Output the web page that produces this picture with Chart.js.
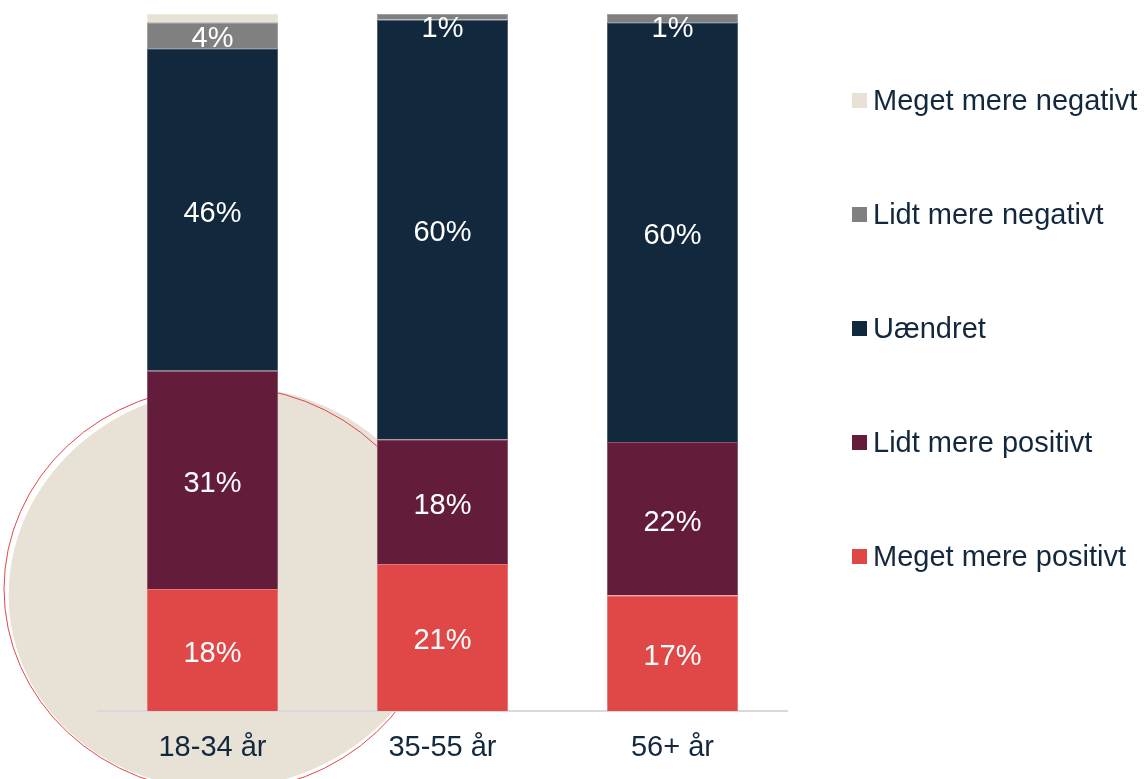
<!DOCTYPE html>
<html>
<head>
    <meta charset="utf-8">
    <title>Holdning efter alder</title>
    <script src="https://cdn.jsdelivr.net/npm/chart.js"></script>
    <style>
        body {
            margin: 0;
            padding: 0;
            background: #ffffff;
            font-family: 'Liberation Sans', Arial, sans-serif;
        }
        #wrap {
            position: relative;
            width: 1145px;
            height: 779px;
        }
        #legend {
            position: absolute;
            left: 852px;
            top: 43px;
        }
        .legend-item {
            height: 114px;
            display: flex;
            align-items: center;
            font-size: 29px;
            color: #13283d;
            white-space: nowrap;
        }
        .legend-box {
            width: 15px;
            height: 15px;
            margin-right: 6px;
        }
    </style>
</head>
<body>
    <div id="wrap">
        <canvas id="chart" width="1145" height="779"></canvas>
        <div id="legend"></div>
    </div>

    <script>
        const ageGroups = ['18-34 år', '35-55 år', '56+ år'];

        // bottom to top in each bar
        const seriesNames = ['Meget mere positivt', 'Lidt mere positivt', 'Uændret', 'Lidt mere negativt', 'Meget mere negativt'];
        const muchMorePositive = [17.5, 21.1, 16.6];
        const littleMorePositive = [31.3, 17.9, 22.0];
        const unchanged = [46.3, 60.2, 60.2];
        const littleMoreNegative = [3.7, 0.8, 1.2];
        const muchMoreNegative = [1.2, 0, 0];

        const seriesColors = ['#e04848', '#631c3a', '#12283d', '#808080', '#e7e1d6'];
        const seriesValues = [muchMorePositive, littleMorePositive, unchanged, littleMoreNegative, muchMoreNegative];
        const labelledSeries = [true, true, true, true, false];

        Chart.defaults.font.family = "'Liberation Sans', Arial, sans-serif";

        // lighter edge between the segments (opaque so the circle does not show through)
        function lighten(hex, amount) {
            const n = parseInt(hex.slice(1), 16);
            const mix = c => Math.round(c + (255 - c) * amount);
            return `rgb(${mix(n >> 16)}, ${mix((n >> 8) & 255)}, ${mix(n & 255)})`;
        }

        // beige circle behind the first bar
        const backdrop = {
            id: 'backdrop',
            beforeDraw(chart) {
                const ctx = chart.ctx;
                ctx.save();
                ctx.fillStyle = '#e7e1d6';
                ctx.beginPath();
                ctx.ellipse(226, 588, 218, 200, -0.2, 0, Math.PI * 2);
                ctx.fill();
                ctx.strokeStyle = '#e04848';
                ctx.lineWidth = 1;
                ctx.beginPath();
                ctx.ellipse(222, 589, 218, 203, 0, 0, Math.PI * 2);
                ctx.stroke();
                ctx.restore();
            }
        };

        const segmentLabels = {
            id: 'segmentLabels',
            afterDatasetsDraw(chart) {
                const ctx = chart.ctx;
                const top = chart.chartArea.top;
                ctx.save();
                ctx.font = "29px 'Liberation Sans', Arial, sans-serif";
                ctx.fillStyle = '#ffffff';
                ctx.textAlign = 'center';
                ctx.textBaseline = 'middle';
                chart.data.datasets.forEach((ds, i) => {
                    if (!labelledSeries[i]) return;
                    chart.getDatasetMeta(i).data.forEach((bar, j) => {
                        const v = ds.data[j];
                        if (!v) return;
                        const y = Math.max((bar.y + bar.base) / 2 + 4, top + 15);
                        ctx.fillText(Math.round(v) + '%', bar.x, y);
                    });
                });
                ctx.restore();
            }
        };

        const datasets = seriesNames.map((name, i) => ({
            label: name,
            data: seriesValues[i],
            backgroundColor: seriesColors[i],
            borderColor: lighten(seriesColors[i], 0.25),
            borderWidth: 1,
            barPercentage: 0.57,
            categoryPercentage: 1
        }));

        new Chart(document.getElementById('chart'), {
            type: 'bar',
            data: {
                labels: ageGroups,
                datasets: datasets
            },
            options: {
                responsive: false,
                animation: false,
                layout: {
                    padding: { left: 97.5, right: 357.5, top: 14, bottom: -6 }
                },
                plugins: {
                    legend: { display: false },
                    tooltip: { enabled: false }
                },
                scales: {
                    x: {
                        stacked: true,
                        grid: { display: false, drawTicks: false },
                        border: { display: true, color: '#d9d9d9', width: 2 },
                        ticks: {
                            color: '#13283d',
                            font: { size: 29 },
                            padding: 19.6
                        }
                    },
                    y: {
                        stacked: true,
                        display: false,
                        min: 0,
                        max: 100
                    }
                }
            },
            plugins: [backdrop, segmentLabels]
        });

        // legend, top item first
        const legendHtml = seriesNames.map((name, i) => `
            <div class="legend-item">
                <span class="legend-box" style="background:${seriesColors[i]}"></span>${name}
            </div>
        `).reverse().join('');
        document.getElementById('legend').innerHTML = legendHtml;
    </script>
</body>
</html>
